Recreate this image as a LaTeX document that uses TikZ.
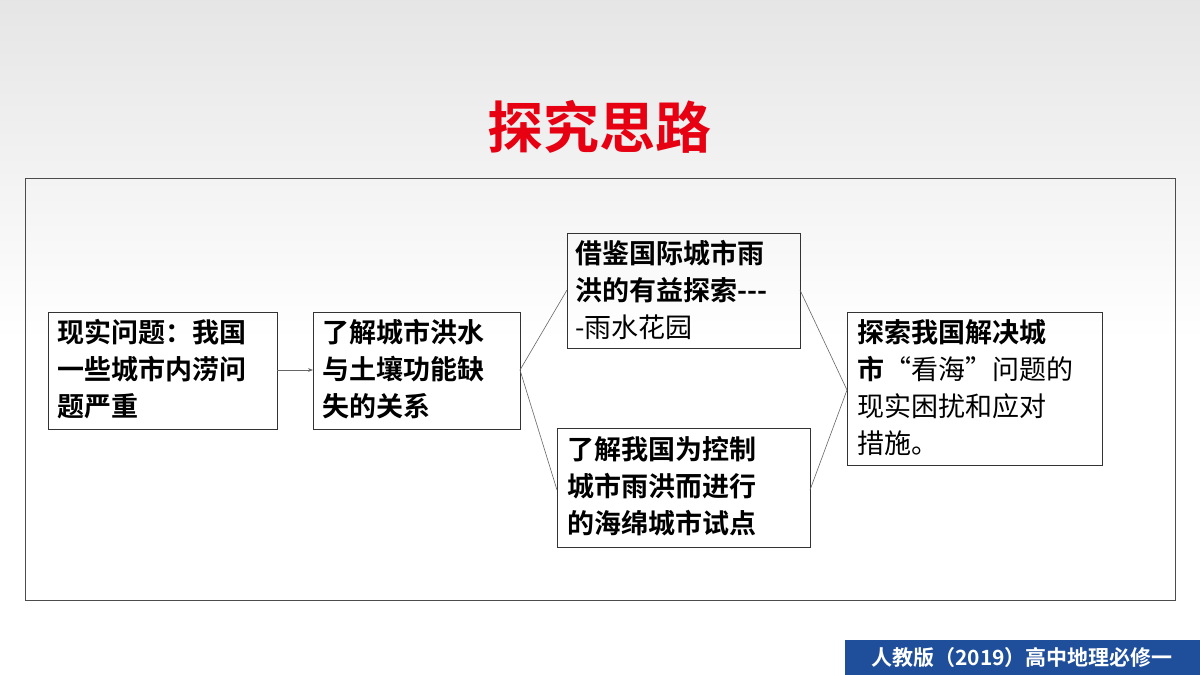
\documentclass[tikz,border=0pt]{standalone}
\usepackage{fontspec}
\setmainfont{Noto Sans CJK SC}
\newfontfamily\cjkb{Noto Sans CJK SC Bold}
\usetikzlibrary{arrows.meta}
\definecolor{titlered}{RGB}{230,0,18}
\definecolor{barblue}{RGB}{31,78,154}
\tikzset{
  stepbox/.style={draw=black!80, line width=0.8pt, anchor=north west, inner sep=0pt},
  boxtext/.style={font=\fontsize{27}{37}\selectfont, align=left},
  link/.style={draw=black!60, line width=0.6pt}
}
\begin{document}
\begin{tikzpicture}[x=1pt,y=-1pt]
\shade[top color=black!10, bottom color=white] (0,0) rectangle (1200,340);
\fill[white] (0,340) rectangle (1200,675);
\useasboundingbox (0,0) rectangle (1200,675);
\node[text=titlered, font=\cjkb\fontsize{56}{56}\selectfont] (title) at (599,127) {探究思路};
\draw[black!70, line width=0.8pt] (25,178) rectangle (1175,600);
% boxes
\draw[stepbox] (48,312) rectangle (277,429);
\node[boxtext, anchor=north west] (real) at (54,316) {\cjkb 现实问题：我国\\\cjkb 一些城市内涝问\\\cjkb 题严重};
\draw[stepbox] (313,312) rectangle (520,429);
\node[boxtext, anchor=north west] (know) at (319,316) {\cjkb 了解城市洪水\\\cjkb 与土壤功能缺\\\cjkb 失的关系};
\draw[stepbox] (567,233) rectangle (800,348);
\node[boxtext, anchor=north west] (learn) at (572,237) {\cjkb 借鉴国际城市雨\\\cjkb 洪的有益探索---\\-雨水花园};
\draw[stepbox] (557,428) rectangle (810,547);
\node[boxtext, anchor=north west] (pilot) at (564,433) {\cjkb 了解我国为控制\\\cjkb 城市雨洪而进行\\\cjkb 的海绵城市试点};
\draw[stepbox] (847,312) rectangle (1102,465);
\node[boxtext, anchor=north west] (solve) at (854,316) {\cjkb 探索我国解决城\\{\cjkb 市}“看海”问题的\\现实困扰和应对\\措施。};
% connectors
\coordinate (aE) at (277,370); \coordinate (bW) at (313,370);
\coordinate (bE) at (520,370); \coordinate (cW) at (567,290);
\coordinate (dW) at (557,490); \coordinate (cE) at (800,290);
\coordinate (dE) at (810,490); \coordinate (eW) at (847,390);
\draw[link, -{Stealth[length=5pt]}] (aE) -- (bW);
\draw[link] (bE) -- (cW);
\draw[link] (bE) -- (dW);
\draw[link] (cE) -- (eW);
\draw[link] (dE) -- (eW);
% footer
\fill[barblue] (845,640) rectangle (1200,675);
\node[text=white, font=\cjkb\fontsize{21}{21}\selectfont] (badge) at (1022,658) {人教版（2019）高中地理必修一};
\end{tikzpicture}
\end{document}
